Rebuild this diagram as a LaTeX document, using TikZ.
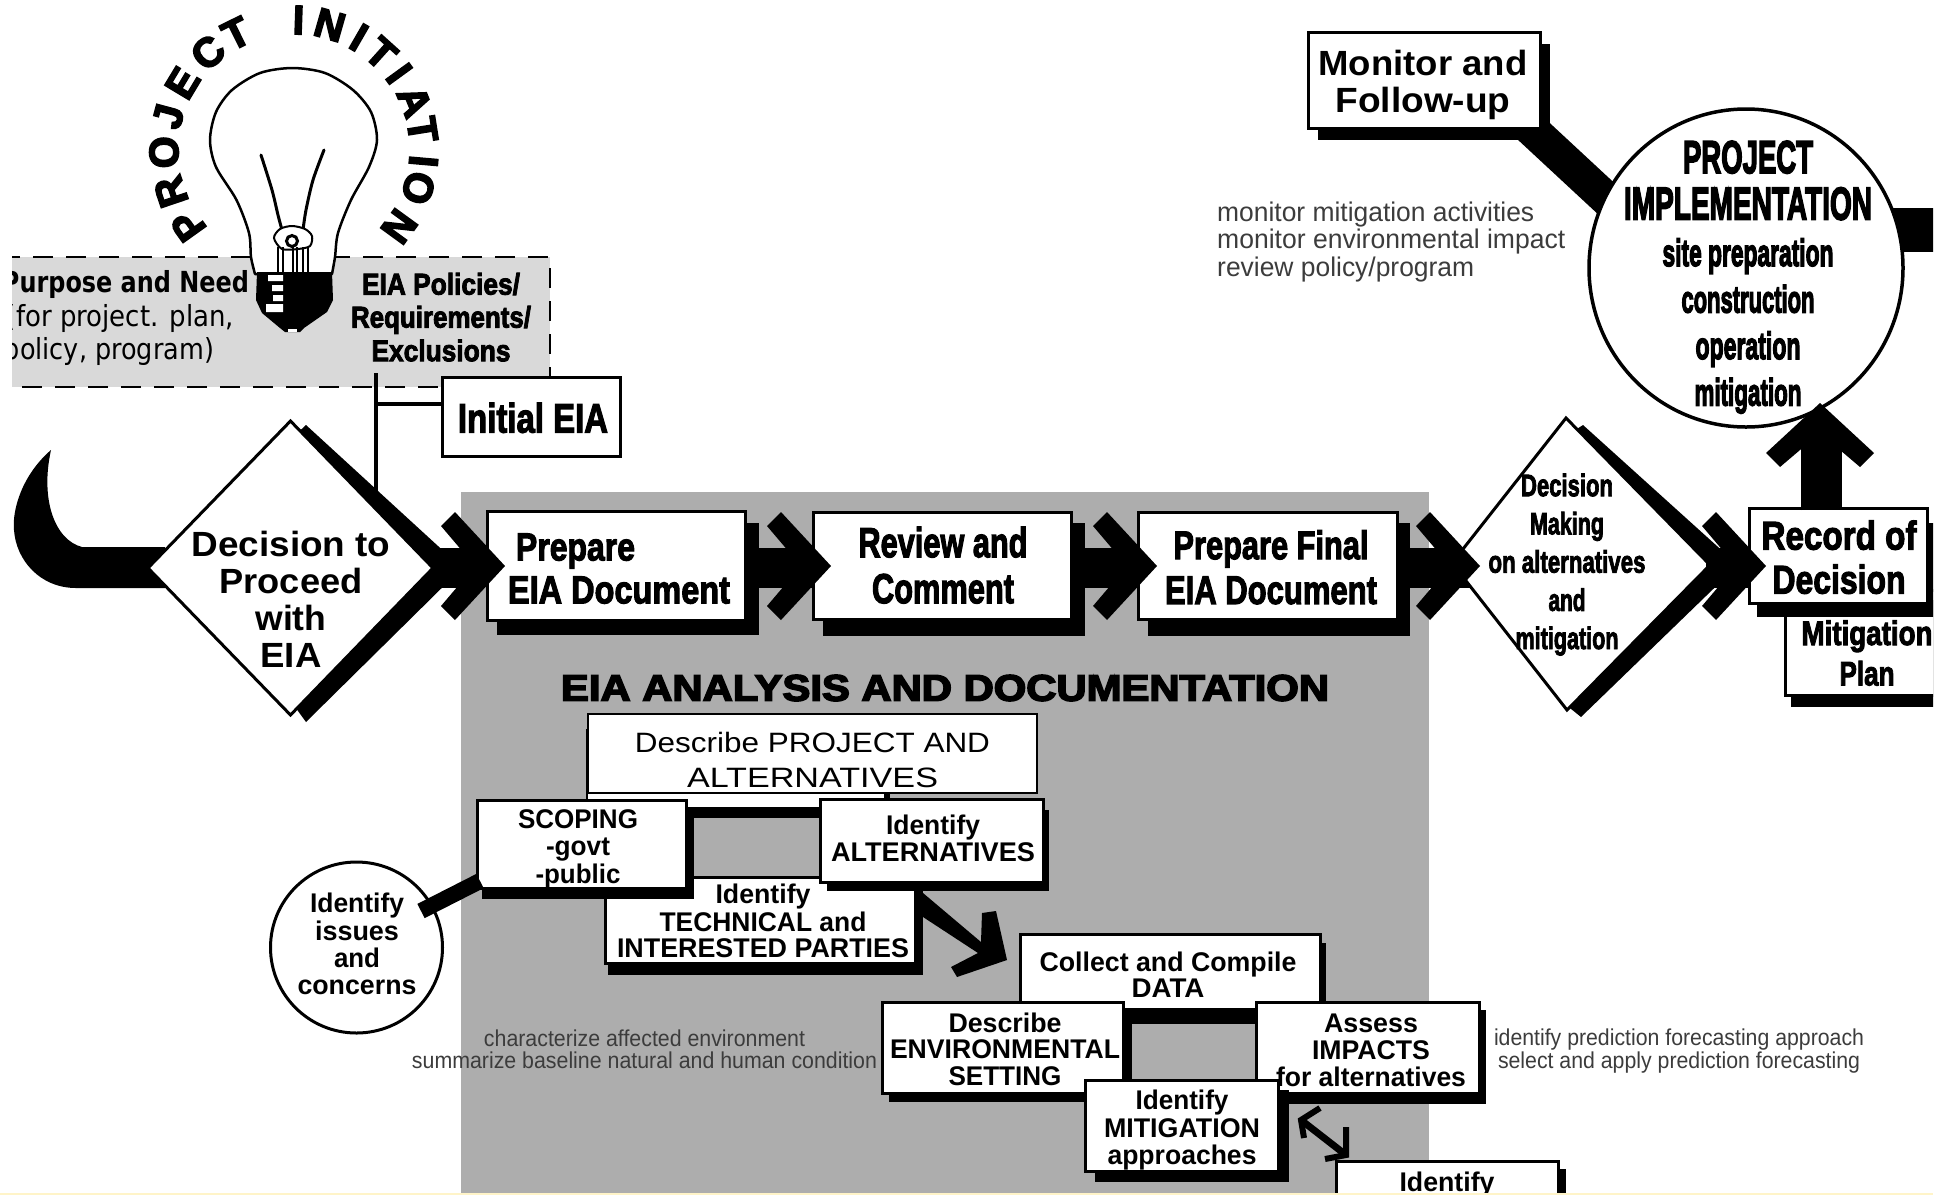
\documentclass[tikz,border=0pt]{standalone}
\usepackage{fontspec}
\setmainfont{Liberation Sans}
\newfontfamily\hv{Liberation Sans Bold}[FakeBold=3]
\newfontfamily\hvv{Liberation Sans Bold}[FakeBold=4]
\newfontfamily\bd{Liberation Sans Bold}
\newfontfamily\vb{DejaVu Sans Bold}
\newfontfamily\vr{DejaVu Sans}
\usetikzlibrary{shapes.geometric}
\definecolor{panel}{HTML}{ADADAD}
\definecolor{pale}{HTML}{D9D9D9}
\definecolor{band}{HTML}{FFF4C8}
\definecolor{note}{HTML}{3C3C3C}
% W: set text to an exact width, keeping its height
\newcommand\W[2]{\resizebox{#1pt}{\height}{#2}}
% Tx: size, leading, alignment, rows
\newcommand\Tx[4]{\fontsize{#1}{#2}\selectfont\setbox\strutbox\hbox{\vrule height .83\baselineskip depth .17\baselineskip width 0pt}\begin{tabular}{@{}#3@{}}#4\end{tabular}}
\tikzset{
  x=1pt,y=-1pt,
  box/.style={draw=black,line width=3pt,fill=white,inner sep=0pt,outer sep=0pt},
  dia/.style={diamond,draw=black,line width=3pt,fill=white,inner sep=0pt,outer sep=0pt,aspect=1},
  circ/.style={ellipse,draw=black,line width=3.5pt,fill=white,inner sep=0pt,outer sep=0pt},
  lbl/.style={inner sep=0pt,outer sep=0pt,text=black,font=\hv},
  lblb/.style={inner sep=0pt,outer sep=0pt,text=black,font=\bd},
  thin text/.style={inner sep=0pt,outer sep=0pt,text=note},
  shaft/.style={line width=40pt,draw=black},
  rule line/.style={line width=4pt,draw=black},
  arcl/.style={inner sep=0pt,outer sep=0pt,font=\hvv\fontsize{41}{41}\selectfont},
  chev/.pic={\fill[black] (0,0)--(-50,-54)--(-64,-40)--(-30,0)--(-64,40)--(-50,54)--cycle;},
}
\newcommand\bx[9]{%
  \fill[black] (#6,#7) rectangle (#8,#9);
  \pgfmathsetmacro\bw{#4-#2}\pgfmathsetmacro\bh{#5-#3}%
  \pgfmathsetmacro\bcx{(#2+#4)/2}\pgfmathsetmacro\bcy{(#3+#5)/2}%
  \node[box,minimum width=\bw pt,minimum height=\bh pt] (#1) at (\bcx,\bcy) {};}
\begin{document}
\begin{tikzpicture}
\useasboundingbox (0,0) rectangle (1954,1195);
\fill[white] (0,0) rectangle (1954,1195);
\begin{scope}
\clip (12,0) rectangle (1933,1193);
% panels
\fill[panel] (461,492) rectangle (1429,1193);
\fill[pale] (0,257) rectangle (550,387);
\draw[line width=2.5pt,dash pattern=on 20pt off 13pt] (0,257) -- (550,257) -- (550,387) -- (0,387);
% arc title
\foreach \ang/\ch [count=\i] in {215.5/P,198.7/R,181/O,165/J,149/E,131.4/C,116.4/T,88/I,74/N,60/I,48/T,36/I,22/A,9/T,-5/I,-17/O,-36/N}
  \node[arcl,rotate=\ang-90] (arc\i) at ([shift={(294,150)}]\ang:130pt) {\ch};
% bulb
\draw[line width=2.5pt,fill=white,line join=round] plot[smooth] coordinates {(255,274) (251,257) (249,233) (236.5,200) (216,167) (210,140) (216,112) (232,90) (260,73) (292.5,68) (325,73) (353,90) (371,112) (377,140) (369,167) (351,200) (338,233) (335,257) (332,274)} -- cycle;
\draw[line width=3pt,line cap=round] plot[smooth] coordinates {(261,155) (272,190) (278,215) (282,230)};
\draw[line width=3pt,line cap=round] plot[smooth] coordinates {(324,150) (313,180) (306,210) (303,230)};
\draw[line width=2pt,fill=white] plot[smooth cycle] coordinates {(274,238) (280,229) (292,226) (305,229) (312,236) (310,246) (298,249) (282,249)};
\draw[line width=2.5pt] (278,247) -- (278,272) (283,247) -- (283,272) (293,247) -- (293,272) (297,247) -- (297,272) (303,247) -- (303,272) (308,247) -- (308,272);
\draw[line width=3pt,fill=white] (292,241) circle[radius=5.5pt];
\fill[black] (257,272) -- (332,272) -- (333,300) -- (327,312) -- (304,328) -- (300,332) -- (285,332) -- (280,328) -- (262,313) -- (256,300) -- cycle;
\fill[white] (268,275) rectangle (283,281) (272,285) rectangle (283,291) (273,295) rectangle (283,301) (266,304) rectangle (283,312);
\fill[white] (288,329) rectangle (297,332);
% policy texts
\node[inner sep=0pt,font=\vb] (pn1) at (125.5,284) {\fontsize{29}{29}\selectfont\W{247}{Purpose and Need}};
\node[inner sep=0pt,font=\vr] (pn2) at (120,318) {\fontsize{29}{29}\selectfont\W{228}{(for project. plan,}};
\node[inner sep=0pt,font=\vr] (pn3) at (109,351) {\fontsize{29}{29}\selectfont\W{210}{policy, program)}};
\node[lbl] (pol) at (441,317) {\Tx{30}{33}{c}{\W{158}{EIA Policies/}\\\W{180}{Requirements/}\\\W{139}{Exclusions}}};
% Initial EIA and its lines
\draw[rule line] (375.5,373) -- (375.5,495);
\node[box,minimum width=178pt,minimum height=79pt] (init) at (531,416.5) {};
\draw[rule line] (375.5,404) -- (init.west |- 0,404);
\node[lbl] (initt) at (533,419) {\Tx{41}{41}{c}{\W{150}{Initial EIA}}};
% left crescent
\fill[black] (51,450) .. controls (22,475) and (12,510) .. (14,530) .. controls (16,560) and (40,588) .. (76,588) -- (165,588) -- (165,547) -- (82,547) .. controls (55,540) and (40,500) .. cycle;
% main shafts
\coordinate (axis) at (0,568);
\fill[black] (306,425) -- (462,568) -- (306,722) -- (290,700) -- (290,440) -- cycle;
\node[dia,minimum width=285pt,minimum height=294pt] (d1) at (290.5,568) {};
\draw[shaft] (d1.east) -- (480,568);
\bx{prep}{487}{511}{745}{620}{497}{523}{759}{635}
\bx{rev}{813}{512}{1071}{619}{823}{523}{1085}{636}
\bx{fin}{1138}{512}{1397}{619}{1148}{523}{1410}{636}
\draw[shaft] (prep.east |- axis) -- (rev.west |- axis);
\draw[shaft] (rev.east |- axis) -- (fin.west |- axis);
\draw[shaft] (fin.east |- axis) -- (1470,568);
% second decision diamond (its top and bottom sit left of centre)
\coordinate (d2n) at (1566,418);
\coordinate (d2e) at (1710,565);
\coordinate (d2s) at (1567,710);
\coordinate (d2w) at (1452,563);
\fill[black] (1583,425) -- (1738,565) -- (1581,717) -- (1560,700) -- (1560,440) -- cycle;
\draw[line width=3pt,fill=white,line join=miter] (d2n) -- (d2e) -- (d2s) -- (d2w) -- cycle;
\draw[shaft] (d2e) ++(-4,3) -- (1750,568);
% right column
\bx{mit}{1785}{590}{1960}{695}{1791}{600}{1960}{707}
\bx{rec}{1749}{508}{1927}{603}{1757}{523}{1960}{617}
\coordinate (m1) at (1500,100);
\coordinate (m2) at (1640,230);
\draw[line width=34pt] (m1) -- (m2);
\bx{mon}{1308}{32}{1540}{128}{1318}{44}{1550}{140}
\coordinate (stubfar) at (1960,230);
\draw[line width=44pt] (1880,230) -- (stubfar);
\node[circ,minimum width=314pt,minimum height=318pt] (impl) at (1746,268) {};
\coordinate (upa) at (1821,510);
\coordinate (upb) at (1821,425);
\draw[line width=41pt] (upa) -- (upb);
\pic[rotate=90] at (1820,403) {chev};
% chevrons
\pic at (505,566) {chev};
\pic at (831,566) {chev};
\pic at (1157,566) {chev};
\pic at (1480,566) {chev};
\pic at (1766,566) {chev};
% main texts
\node[lblb] (d1t) at (291,600) {\Tx{35}{37}{c}{\W{199}{Decision to}\\\W{143}{Proceed}\\\W{71}{with}\\\W{61}{EIA}}};
\node[lbl] (prept) at (619,568) {\Tx{39}{42}{l}{\hspace*{8pt}\W{119}{Prepare}\\\W{222}{EIA Document}}};
\node[lbl] (revt) at (943,565) {\Tx{42}{46}{c}{\W{169}{Review and}\\\W{142}{Comment}}};
\node[lbl] (fint) at (1271,567) {\Tx{40}{44}{c}{\W{195}{Prepare Final}\\\W{212}{EIA Document}}};
\node[lbl] (d2t) at (1567,560) {\Tx{31}{38.2}{c}{\W{92}{Decision}\\\W{74}{Making}\\\W{157}{on alternatives}\\\W{37}{and}\\\W{103}{mitigation}}};
\node[lbl] (rect) at (1839,557) {\Tx{40}{44}{c}{\W{155}{Record of}\\\W{133}{Decision}}};
\node[lbl] (mitt) at (1867,652) {\Tx{34}{40}{c}{\W{131}{Mitigation}\\\W{55}{Plan}}};
\node[lblb] (mont) at (1423,82) {\Tx{35}{37}{c}{\W{209}{Monitor and}\\\W{175}{Follow-up}}};
\node[inner sep=0pt,font=\hvv] (implt) at (1748,274) {\Tx{46}{46.5}{c}{\W{130}{PROJECT}\\\W{248}{IMPLEMENTATION}\\[0pt]\fontsize{38}{46.5}\selectfont\W{171}{site preparation}\\\fontsize{38}{46.5}\selectfont\W{133}{construction}\\\fontsize{38}{46.5}\selectfont\W{105}{operation}\\\fontsize{38}{46.5}\selectfont\W{107}{mitigation}}};
\node[inner sep=0pt,text=note,align=left,anchor=west] (mnt) at (1217,241) {\Tx{27}{26}{l}{\W{317}{monitor mitigation activities}\\\W{348}{monitor environmental impact}\\\W{257}{review policy/program}}};
% analysis title
\node[font=\hvv,inner sep=0pt] (ttl) at (945,688) {\fontsize{37}{37}\selectfont\W{768}{EIA ANALYSIS AND DOCUMENTATION}};
% analysis cluster
\fill[black] (586,729) rectangle (890,818);
\fill[white] (588,790) rectangle (884,807);
\fill[black] (660,807) rectangle (830,818);
\node[box,minimum width=449pt,minimum height=79pt,line width=2.5pt] (desc) at (812.5,753.5) {};
\node[inner sep=0pt] (desct) at (812.5,758.5) {\Tx{28}{35}{c}{\W{355}{Describe PROJECT AND}\\\W{251}{ALTERNATIVES}}};
\bx{tech}{605}{877}{915}{963}{608}{880}{923}{975}
\node[lblb] (techt) at (763,922) {\Tx{27}{26.5}{c}{\W{95}{Identify}\\\W{207}{TECHNICAL and}\\\W{292}{INTERESTED PARTIES}}};
\bx{sco}{477}{800}{686}{888}{482}{815}{694}{899}
\node[lblb] (scot) at (578,848) {\Tx{27}{27}{c}{\W{120}{SCOPING}\\\W{64}{-govt}\\\W{85}{-public}}};
\bx{alt}{820}{799}{1043}{882}{827}{810}{1049}{891}
\node[lblb] (altt) at (933,839) {\Tx{27}{26}{c}{\W{94}{Identify}\\\W{204}{ALTERNATIVES}}};
\node[circ,minimum width=172pt,minimum height=171pt,line width=3pt] (iss) at (356.5,947.5) {};
\node[lblb] (isst) at (357,945) {\Tx{27}{27}{c}{\W{94}{Identify}\\\W{84}{issues}\\\W{46}{and}\\\W{119}{concerns}}};
\coordinate (issa) at (421,911);
\coordinate (issb) at (480,881);
\draw[line width=16pt] (issa) -- (issb);
% tech to collect arrow
\coordinate (colarrow) at (1007,960);
\fill[black] (923,893) -- (981,942) -- (982,913) -- (996,911) -- (colarrow) -- (957,977) -- (951,967) -- (978,953) -- (923,917) -- cycle;
\bx{col}{1020}{934}{1320}{1009}{1030}{943}{1326}{1024}
\node[lblb] (colt) at (1168,976) {\Tx{27}{25}{c}{\W{257}{Collect and Compile}\\\W{73}{DATA}}};
\bx{env}{882}{1002}{1123}{1093}{889}{1010}{1132}{1102}
\node[lblb] (envt) at (1005,1050) {\Tx{27}{26.5}{c}{\W{113}{Describe}\\\W{230}{ENVIRONMENTAL}\\\W{113}{SETTING}}};
\bx{imp}{1256}{1002}{1479}{1093}{1266}{1010}{1486}{1104}
\node[lblb] (impt) at (1371,1050.5) {\Tx{27}{27}{c}{\W{94}{Assess}\\\W{118}{IMPACTS}\\\W{190}{for alternatives}}};
\bx{mtg}{1085}{1080}{1278}{1171}{1095}{1090}{1289}{1182}
\node[lblb] (mtgt) at (1182,1129) {\Tx{27}{27}{c}{\W{93}{Identify}\\\W{156}{MITIGATION}\\\W{149}{approaches}}};
\coordinate (dbla) at (1301,1120);
\coordinate (dblb) at (1346,1155);
\draw[line width=6pt] (1320,1108) -- (dbla) -- (1304,1138);
\draw[line width=6pt] (1346,1127) -- (dblb) -- (1325,1159);
\draw[line width=7pt] (dbla) -- (dblb);
\bx{idn}{1336}{1161}{1558}{1230}{1346}{1169}{1566}{1240}
\node[lblb] (idnt) at (1447,1183) {\Tx{27}{27}{c}{\W{95}{Identify}}};
% notes
\node[thin text] (n1) at (644.5,1050) {\Tx{23}{22}{c}{\W{321}{characterize affected environment}\\\W{465}{summarize baseline natural and human condition}}};
\node[thin text] (n2) at (1679,1050) {\Tx{23}{22}{c}{\W{370}{identify prediction forecasting approach}\\\W{362}{select and apply prediction forecasting}}};
\end{scope}
\fill[band] (0,1193) rectangle (1933,1195);
\end{tikzpicture}
\end{document}
